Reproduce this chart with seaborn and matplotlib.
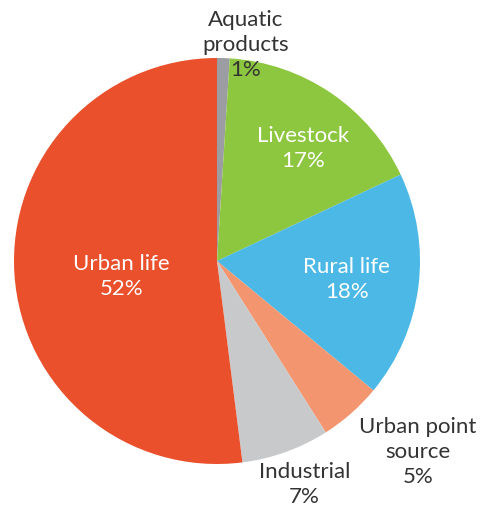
import matplotlib
matplotlib.use("Agg")
import matplotlib.pyplot as plt
import seaborn as sns

sns.set_theme(style="white")
plt.rcParams['font.family'] = ['Lato', 'DejaVu Sans']

# data: clockwise from 12 o'clock
sources = ['Aquatic\nproducts', 'Livestock', 'Rural life', 'Urban point\nsource', 'Industrial', 'Urban life']
shares = [1, 17, 18, 5, 7, 52]
colors = ['#9c9da2', '#8dc63f', '#4cb8e6', '#f3966f', '#c8c9cb', '#e9502b']

# label placement (data coords, pie radius = 1) and colour
label_pos = [(0.14, 1.065), (0.425, 0.555), (0.64, -0.09), (0.99, -0.94), (0.43, -1.10), (-0.47, -0.075)]
label_col = ['#333333', 'white', 'white', '#333333', '#333333', 'white']

fig = plt.figure(figsize=(4.82, 5.13), dpi=100)
ax = fig.add_axes([14 / 482, 49 / 513, 406 / 482, 406 / 513])

ax.pie(shares, colors=colors, startangle=90, counterclock=False, radius=1,
       wedgeprops=dict(linewidth=0))
ax.set_xlim(-1, 1)
ax.set_ylim(-1, 1)
ax.set_aspect('equal')
ax.axis('off')

for name, val, (x, y), c in zip(sources, shares, label_pos, label_col):
    ax.text(x, y, f"{name}\n{val}%", ha='center', va='center', color=c,
            fontsize=16, linespacing=1.32, clip_on=False)

fig.savefig('out.png', dpi=100)
